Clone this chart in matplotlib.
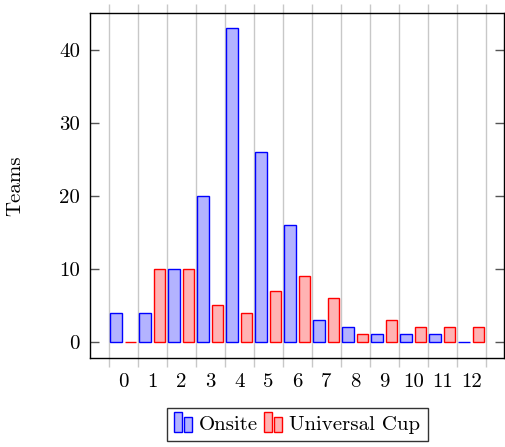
import matplotlib
matplotlib.use("Agg")
import matplotlib.pyplot as plt
import numpy as np
from matplotlib.legend_handler import HandlerBase
from matplotlib.patches import Rectangle

categories = [str(i) for i in range(13)]
onsite = [4, 4, 10, 20, 43, 26, 16, 3, 2, 1, 1, 1, 0]
universal = [0, 10, 10, 5, 4, 7, 9, 6, 1, 3, 2, 2, 2]
series_names = ["Onsite", "Universal Cup"]
yticks = [0, 10, 20, 30, 40]

plt.rcParams['font.family'] = ['cmr10', 'DejaVu Serif']
plt.rcParams['axes.formatter.use_mathtext'] = True
plt.rcParams['mathtext.fontset'] = 'cm'

FS = 15

fig = plt.figure(figsize=(5.06, 4.47), dpi=100)
ax = fig.add_axes([89.7/506, 1-357.7/447, (504.3-89.7)/506, (357.7-13.3)/447])

x = np.arange(len(categories))
bw = 0.39
off = 0.25
b1 = ax.bar(x - off, onsite, bw, facecolor='#b3b3ff', edgecolor='#0000ff', linewidth=1.0, zorder=3)
b2 = ax.bar(x + off, universal, bw, facecolor='#ffb3b3', edgecolor='#ff0000', linewidth=1.0, zorder=3)

ax.set_xlim(-1.155, 13.14)
ax.set_ylim(-2.19, 45.05)

# major ticks at half positions (grid), labels at integer minor ticks
ax.set_xticks(np.arange(-0.5, len(categories), 1.0))
ax.set_xticklabels([])
ax.set_xticks(x, minor=True)
ax.set_xticklabels(categories, minor=True)
ax.tick_params(axis='x', which='major', direction='out', length=6.5, width=1.0,
               color='#c8c8c8', top=True, bottom=True)
ax.tick_params(axis='x', which='minor', length=0, pad=11, labelsize=FS)
ax.grid(axis='x', which='major', color='#c8c8c8', linewidth=1.0, zorder=0)

ax.set_yticks(yticks)
ax.set_yticklabels([str(v) for v in yticks])
ax.tick_params(axis='y', direction='in', length=6.5, width=1.0, color='#555555',
               left=True, right=True, labelsize=FS, pad=7)

for s in ax.spines.values():
    s.set_linewidth(1.0)
    s.set_color('black')
    s.set_zorder(5)

ax.set_ylabel("Teams", fontsize=FS, labelpad=25)


class TwoBarHandler(HandlerBase):
    def create_artists(self, legend, orig_handle, xdescent, ydescent, width, height, fontsize, trans):
        fc = orig_handle.get_facecolor()
        ec = orig_handle.get_edgecolor()
        w = width * 0.38
        gap = width * 0.12
        h1 = height * 1.35
        h2 = height * 1.0
        y0 = -ydescent - height * 0.15
        r1 = Rectangle((-xdescent, y0), w, h1, facecolor=fc, edgecolor=ec, linewidth=1.0, transform=trans)
        r2 = Rectangle((-xdescent + w + gap, y0), w, h2, facecolor=fc, edgecolor=ec, linewidth=1.0, transform=trans)
        return [r1, r2]


h = TwoBarHandler()
leg = fig.legend([b1.patches[0], b2.patches[0]], series_names,
                 handler_map={Rectangle: h},
                 loc='upper center', bbox_to_anchor=(297.3/506, 1-408/447),
                 ncol=2, fontsize=FS, frameon=True, fancybox=False,
                 handlelength=0.95, handleheight=0.7, handletextpad=0.25,
                 columnspacing=0.3, borderpad=0.35, borderaxespad=0.0)
leg.get_frame().set_edgecolor('black')
leg.get_frame().set_linewidth(1.0)

fig.savefig("out.png", dpi=100)
